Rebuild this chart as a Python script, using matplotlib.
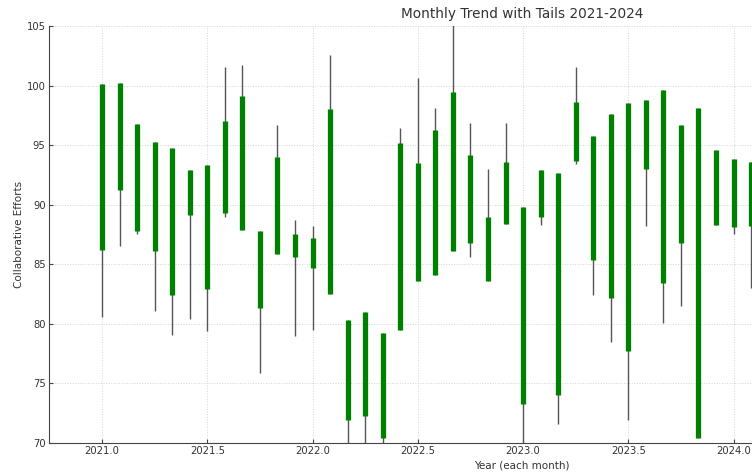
import matplotlib
matplotlib.use("Agg")
import matplotlib.pyplot as plt
import numpy as np

# Monthly data, Jan 2021 .. Feb 2024 (visible part)
months_index = list(range(38))
body_high = [100.1, 100.2, 96.8, 95.3, 94.8, 92.9, 93.3, 97.0, 99.1, 87.8,
             94.0, 87.5, 87.2, 98.0, 80.3, 81.0, 79.2, 95.2, 93.5, 96.3,
             99.5, 94.2, 89.0, 93.6, 89.8, 92.9, 92.7, 98.6, 95.8, 97.6,
             98.5, 98.8, 99.6, 96.7, 98.1, 94.6, 93.8, 93.6]
body_low = [86.2, 91.2, 87.8, 86.1, 82.4, 89.1, 82.9, 89.3, 87.9, 81.3,
            85.9, 85.6, 84.7, 82.5, 71.9, 72.3, 70.4, 79.5, 83.6, 84.1,
            86.1, 86.8, 83.6, 88.4, 73.3, 89.0, 74.0, 93.7, 85.4, 82.2,
            77.7, 93.0, 83.4, 86.8, 70.4, 88.3, 88.1, 88.2]
wick_high = [100.1, 100.2, 96.8, 95.3, 94.8, 92.9, 93.3, 101.6, 101.7, 87.8,
             96.7, 88.7, 88.2, 102.6, 80.3, 81.0, 79.2, 96.4, 100.6, 98.1,
             105.5, 96.9, 93.0, 96.9, 89.8, 92.9, 92.7, 101.6, 95.8, 97.6,
             98.5, 98.8, 99.6, 96.7, 98.1, 94.6, 93.8, 93.6]
wick_low = [80.6, 86.5, 87.5, 81.1, 79.1, 80.4, 79.4, 89.0, 87.9, 75.9,
            85.9, 79.0, 79.5, 82.5, 69.0, 69.0, 70.0, 79.5, 83.6, 84.1,
            86.1, 85.6, 83.6, 88.4, 69.5, 88.3, 71.6, 93.4, 82.4, 78.5,
            71.9, 88.2, 80.1, 81.5, 70.4, 88.3, 87.5, 83.0]

x = 2021 + np.array(months_index) / 12.0

fig = plt.figure(figsize=(7.52, 4.73), dpi=100)
ax = fig.add_axes([49/752, 30/473, 946/752, 417/473])

ax.vlines(x, wick_low, wick_high, color="#555555", linewidth=1.0, zorder=2)
ax.vlines(x, body_low, body_high, color="green", linewidth=3.8, zorder=3)

ax.set_xlim(2020.748, 2025.242)
ax.set_ylim(70, 105)
ax.set_xticks([2021.0, 2021.5, 2022.0, 2022.5, 2023.0, 2023.5, 2024.0, 2024.5, 2025.0])
ax.set_yticks([70, 75, 80, 85, 90, 95, 100, 105])

ax.grid(True, linestyle=":", color="#d5d5d5", linewidth=0.7, zorder=0)
for s in ["top", "right"]:
    ax.spines[s].set_visible(False)
for s in ["left", "bottom"]:
    ax.spines[s].set_color("#444444")
ax.tick_params(labelsize=7.2, direction="in", length=3, pad=2.5,
               color="#444444", labelcolor="#333333")

ax.set_title("Monthly Trend with Tails 2021-2024", fontsize=9.8, color="#333333", pad=6)
ax.set_xlabel("Year (each month)", fontsize=7.5, color="#333333", labelpad=3)
ax.set_ylabel("Collaborative Efforts", fontsize=7.5, color="#333333", labelpad=1.5)

fig.savefig("out.png", dpi=100)
